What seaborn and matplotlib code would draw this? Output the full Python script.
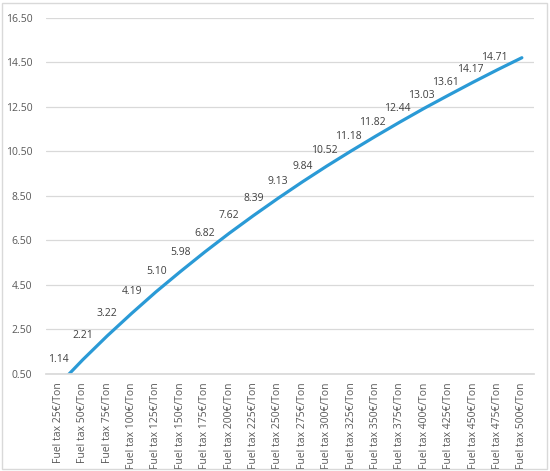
import pandas as pd
import matplotlib.pyplot as plt
import seaborn as sns
from matplotlib.patches import Rectangle

sns.set_theme(style="white")
plt.rcParams['font.family'] = ['Open Sans', 'DejaVu Sans']

# Datos (el primer punto queda por debajo del eje, ~0)
tax_levels = [25, 50, 75, 100, 125, 150, 175, 200, 225, 250,
              275, 300, 325, 350, 375, 400, 425, 450, 475, 500]
categories = [f"Fuel tax {t}€/Ton" for t in tax_levels]
values = [0.00, 1.14, 2.21, 3.22, 4.19, 5.10, 5.98, 6.82, 7.62, 8.39,
          9.13, 9.84, 10.52, 11.18, 11.82, 12.44, 13.03, 13.61, 14.17, 14.71]
y_ticks = [0.5, 2.5, 4.5, 6.5, 8.5, 10.5, 12.5, 14.5, 16.5]

df = pd.DataFrame({'cat': categories, 'val': values})

fig = plt.figure(figsize=(5.5, 4.71), dpi=100)
ax = fig.add_axes([0.084, 0.206, 0.887, 0.756])

sns.lineplot(data=df, x='cat', y='val', sort=False, color='#2a9ad6',
             linewidth=2.3, ax=ax)

# Etiquetas a la izquierda de cada punto (las fuera de rango no se muestran)
for i, v in enumerate(values):
    if v < y_ticks[0]:
        continue
    ax.annotate(f"{v:.2f}", (i, v), xytext=(-10, 0), textcoords='offset points',
                ha='right', va='center', fontsize=7.5, color='#404040')

ax.set_ylim(y_ticks[0], y_ticks[-1])
ax.set_xlim(-0.5, len(values) - 0.5)
ax.set_yticks(y_ticks)
ax.set_yticklabels([f"{t:.2f}" for t in y_ticks])
ax.set_xticks(range(len(values)))
ax.set_xticklabels(df['cat'], rotation=90)
ax.tick_params(axis='both', length=0, labelsize=7.5, labelcolor='#595959')
ax.tick_params(axis='y', pad=10)
ax.tick_params(axis='x', pad=6)
ax.yaxis.grid(True, color='#d9d9d9', linewidth=0.9)
ax.set_axisbelow(True)
for s in ['top', 'right', 'left']:
    ax.spines[s].set_visible(False)
ax.spines['bottom'].set_color('#d9d9d9')
ax.set_xlabel('')
ax.set_ylabel('')

fig.patches.append(Rectangle((0.003, 0.004), 0.992, 0.99, transform=fig.transFigure,
                             fill=False, edgecolor='#d9d9d9', linewidth=1))

plt.savefig('out.png', dpi=100)
